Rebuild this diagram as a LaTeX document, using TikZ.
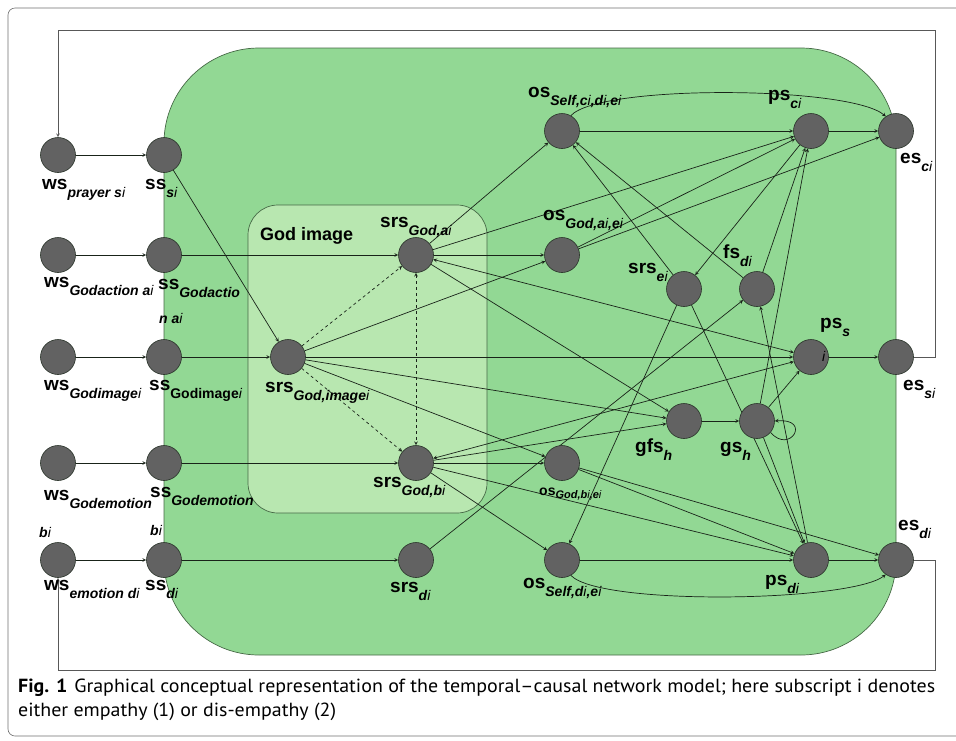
\documentclass[tikz,border=0pt]{standalone}
\usepackage{fontspec}
\setmainfont{Liberation Sans}
\newfontfamily\capfont[FakeStretch=1.05]{PT Sans}
\usetikzlibrary{backgrounds}
\definecolor{outergreen}{RGB}{146,216,148}
\definecolor{innergreen}{RGB}{184,231,176}
\definecolor{boxline}{RGB}{70,105,70}
\definecolor{statefill}{RGB}{98,98,98}
\definecolor{stateline}{RGB}{40,50,40}
\definecolor{linkcol}{RGB}{25,35,25}
\definecolor{framecol}{RGB}{110,110,110}
\newcommand{\subf}{\fontsize{14}{14}\selectfont\bfseries\itshape}
\newcommand{\ii}{{\mdseries i}}
\newcommand{\slab}[2]{\textbf{#1}\raisebox{-8pt}{\subf #2}}
\tikzset{
    statenode/.style={circle, fill=statefill, draw=stateline, line width=0.6pt, minimum size=35pt, inner sep=0pt},
    lab/.style={anchor=base west, inner sep=0pt, font=\fontsize{19}{19}\selectfont},
    sublab/.style={anchor=base west, inner sep=0pt, font=\subf},
    caplab/.style={anchor=base west, inner sep=0pt, font=\capfont\fontsize{19}{22}\selectfont},
    link/.style={-stealth, draw=linkcol, line width=0.7pt},
    dlink/.style={link, dashed},
    fback/.style={-stealth, draw=framecol!80!black, line width=0.7pt}
}
\begin{document}
\begin{tikzpicture}[x=1pt, y=-1pt]
    \useasboundingbox (0,0) rectangle (956,740);
    % states
    \path   node[statenode] (wsS) at (58,155) {}
            node[statenode] (wsA) at (58,255) {}
            node[statenode] (wsI) at (58,357) {}
            node[statenode] (wsB) at (58,463) {}
            node[statenode] (wsD) at (58,560) {}
            node[statenode] (ssS) at (164,155) {}
            node[statenode] (ssA) at (164,255) {}
            node[statenode] (ssI) at (164,357) {}
            node[statenode] (ssB) at (164,463) {}
            node[statenode] (ssD) at (164,560) {}
            node[statenode] (srsImg) at (288,357) {}
            node[statenode] (srsA) at (416,255) {}
            node[statenode] (srsB) at (416,463) {}
            node[statenode] (srsD) at (416,560) {}
            node[statenode] (osSelfC) at (562,131) {}
            node[statenode] (osGodA) at (562,255) {}
            node[statenode] (osGodB) at (562,463) {}
            node[statenode] (osSelfD) at (562,560) {}
            node[statenode] (srsE) at (684,289) {}
            node[statenode] (fsD) at (757,289) {}
            node[statenode] (gfsH) at (684,421) {}
            node[statenode] (gsH) at (757,421) {}
            node[statenode] (psC) at (811,131) {}
            node[statenode] (psS) at (811,357) {}
            node[statenode] (psD) at (811,560) {}
            node[statenode] (esC) at (896,131) {}
            node[statenode] (esS) at (896,357) {}
            node[statenode] (esD) at (896,560) {};
    % labels
    \path   node[lab] (lwsS) at (42,189) {\slab{ws}{prayer s\ii}}
            node[lab] (lssS) at (145,189) {\slab{ss}{s\ii}}
            node[lab] (lwsA) at (44,287) {\slab{ws}{Godaction a\ii}}
            node[lab] (lssA) at (158,289) {\slab{ss}{Godactio}}
            node[sublab] (lssAb) at (159,323) {n a\ii}
            node[lab] (lwsI) at (44,390) {\slab{ws}{Godimage\ii}}
            node[lab] (lssI) at (149,390) {\slab{ss}{\upshape Godimage\itshape\ii}}
            node[lab] (lwsB) at (44,500) {\slab{ws}{Godemotion}}
            node[sublab] (lwsBb) at (39,537) {b\ii}
            node[lab] (lssB) at (150,497) {\slab{ss}{Godemotion}}
            node[sublab] (lssBb) at (150,535) {b\ii}
            node[lab] (lwsD) at (44,590) {\slab{ws}{emotion d\ii}}
            node[lab] (lssD) at (145,590) {\slab{ss}{d\ii}}
            node[lab] (lsrsImg) at (265,392) {\slab{srs}{God,image\ii}}
            node[lab] (lsrsA) at (380,227) {\slab{srs}{God,a\ii}}
            node[lab] (lsrsB) at (373,487) {\slab{srs}{God,b\ii}}
            node[lab] (lsrsD) at (390,592) {\slab{srs}{d\ii}}
            node[lab] (losSelfC) at (528,97) {\slab{os}{Self,c\ii,d\ii,e\ii}}
            node[lab] (losGodA) at (543,220) {\slab{os}{God,a\ii,e\ii}}
            node[sublab] (losGodB) at (539,495) {\textbf{\upshape os}\raisebox{-3pt}{\fontsize{11}{11}\selectfont God,b\ii,e\ii}}
            node[lab] (losSelfD) at (523,588) {\slab{os}{Self,d\ii,e\ii}}
            node[lab] (lsrsE) at (628,273) {\slab{srs}{e\ii}}
            node[lab] (lfsD) at (723,258) {\slab{fs}{d\ii}}
            node[lab] (lgfsH) at (635,452) {\slab{gfs}{h}}
            node[lab] (lgsH) at (720,452) {\slab{gs}{h}}
            node[lab] (lpsC) at (768,100) {\slab{ps}{c\ii}}
            node[lab] (lpsS) at (820,328) {\slab{ps}{s}}
            node[sublab] (lpsSb) at (822,361) {\ii}
            node[lab] (lpsD) at (765,585) {\slab{ps}{d\ii}}
            node[lab] (lesC) at (900,163) {\slab{es}{c\ii}}
            node[lab] (lesS) at (903,390) {\slab{es}{s\ii}}
            node[lab] (lesD) at (898,530) {\slab{es}{d\ii}}
            node[anchor=base west, inner sep=0pt, font=\fontsize{18}{18}\selectfont\bfseries] (lgod) at (260,240) {God image};
    % caption
    \path   node[caplab] (cap1) at (18,692)
                {\textbf{Fig. 1}\hspace{7pt}Graphical conceptual representation of the temporal–causal network model; here subscript i denotes}
            node[caplab] (cap2) at (18,716)
                {either empathy (1) or dis-empathy (2)};
    \coordinate (fbTop) at (935,30);
    \coordinate (fbBot) at (935,670);
    \begin{scope}[on background layer]
        \draw[framecol, line width=0.6pt, rounded corners=7pt] (960,8) -- (8,8) -- (8,736) -- (960,736);
        \filldraw[fill=outergreen, draw=boxline, line width=0.7pt, rounded corners=95pt] (164,48) rectangle (896,655);
        \filldraw[fill=innergreen, draw=boxline, line width=0.7pt, rounded corners=30pt] (248,205) rectangle (487,513);
        % feedback
        \draw[fback] (esS.east) -| (fbTop) -| (wsS.north);
        \draw[fback] (esD.east) -| (fbBot) -| (wsD.south);
        % world to sensor to representation
        \foreach \a/\b in {wsS/ssS, wsA/ssA, wsI/ssI, wsB/ssB, wsD/ssD,
                           ssS/srsImg, ssA/srsA, ssI/srsImg, ssB/srsB, ssD/srsD}
            \draw[link] (\a) -- (\b);
        \draw[dlink] (srsImg) -- (srsA);
        \draw[dlink] (srsImg) -- (srsB);
        \draw[dlink, stealth-stealth] (srsA) -- (srsB);
        % representation to ownership, preparation
        \foreach \a/\b in {srsImg/osGodA, srsImg/psS, srsImg/gfsH, srsImg/osGodB,
                           srsA/osSelfC, srsA/osGodA, srsA/psC, srsA/gfsH,
                           srsB/osGodB, srsB/gfsH, srsB/osSelfD, srsB/psD,
                           srsD/fsD,
                           osSelfC/psC, osGodA/psC, osGodA/esC,
                           osGodB/psD, osGodB/esD, osSelfD/psD,
                           psC/esC, psS/esS, psD/esD,
                           psC/srsE, srsE/osSelfC, srsE/osSelfD, srsE/psD,
                           fsD/osSelfC, fsD/psC, psD/fsD,
                           gfsH/gsH, gsH/psC, gsH/psS, gsH/psD}
            \draw[link] (\a) -- (\b);
        \draw[link, stealth-stealth] (srsA) -- (psS);
        \draw[link, stealth-stealth] (srsB) -- (psS);
        \draw[link] (osSelfC.60) .. controls (600,84) and (850,86) .. (esC.125);
        \draw[link] (osSelfD.-60) .. controls (600,606) and (850,602) .. (esD.-125);
        \draw[link] (gsH.-40) .. controls (790,455) and (812,418) .. (gsH.east);
    \end{scope}
\end{tikzpicture}
\end{document}
